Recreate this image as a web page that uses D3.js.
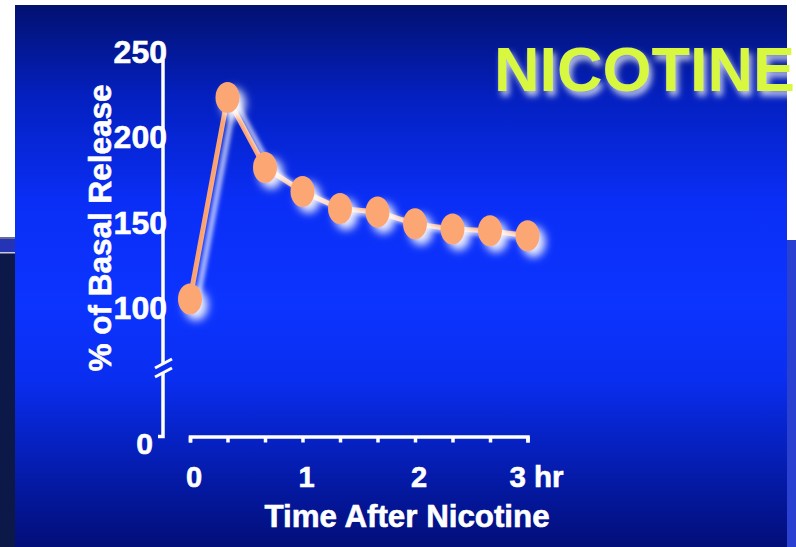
<!DOCTYPE html>
<html>
<head>
<meta charset="utf-8">
<script src="https://cdn.jsdelivr.net/npm/d3@7"></script>
<style>
  body { margin: 0; background: #fff; }
  text { font-family: "Liberation Sans", Arial, sans-serif; font-weight: bold; }
</style>
</head>
<body>
<div id="chart"></div>
<script>
// Data (time in minutes, % of basal release)
var times = [0, 20, 40, 60, 80, 100, 120, 140, 160, 180];
var release = [105, 223, 182, 168, 158, 156, 149, 146, 145, 142];
var yTicks = [100, 150, 200, 250];
var xTickLabels = [{t: 0, label: "0"}, {t: 60, label: "1"}, {t: 120, label: "2"}];
var lastLabel = {t: 180, label: "3 hr"};

var svgWidth = 796;
var svgHeight = 547;

var svg = d3.select("#chart")
    .append("svg")
    .attr("width", svgWidth)
    .attr("height", svgHeight);

var defs = svg.append("defs");

// vertical blue gradient of the slide
var grad = defs.append("linearGradient")
    .attr("id", "bg")
    .attr("x1", 0).attr("y1", 0).attr("x2", 0).attr("y2", 1);
[[0, "#021170"], [0.17, "#0420c0"], [0.36, "#0a2ef5"], [0.55, "#0c34ff"],
 [0.69, "#0a2ef0"], [0.8, "#0622c4"], [1, "#020e78"]].forEach(function(s) {
    grad.append("stop").attr("offset", s[0]).attr("stop-color", s[1]);
});

// white soft glow under (or over) an element
function glow(id, dx, dy, blur, op, onTop) {
    var f = defs.append("filter").attr("id", id)
        .attr("x", "-20%").attr("y", "-20%").attr("width", "140%").attr("height", "140%");
    f.append("feGaussianBlur").attr("in", "SourceAlpha").attr("stdDeviation", blur).attr("result", "b");
    f.append("feOffset").attr("in", "b").attr("dx", dx).attr("dy", dy).attr("result", "o");
    f.append("feFlood").attr("flood-color", "#fff").attr("flood-opacity", op);
    f.append("feComposite").attr("in2", "o").attr("operator", "in").attr("result", "s");
    var m = f.append("feMerge");
    if (onTop) {
        m.append("feMergeNode").attr("in", "SourceGraphic");
        m.append("feMergeNode").attr("in", "s");
    } else {
        m.append("feMergeNode").attr("in", "s");
        m.append("feMergeNode").attr("in", "SourceGraphic");
    }
}
glow("glowTitle", 3, 5, 3, 0.75, false);
glow("glowDot", 6, 6, 4, 0.9, false);
glow("glowLine", 7, 3, 2, 0.75, true);

// slide background pieces
svg.append("rect").attr("x", 0).attr("y", 253).attr("width", 16).attr("height", 294).attr("fill", "#0c1848");
svg.append("rect").attr("x", 0).attr("y", 239).attr("width", 16).attr("height", 13).attr("fill", "#2434b4");
svg.append("rect").attr("x", 0).attr("y", 237).attr("width", 16).attr("height", 2).attr("fill", "#6a6a9a");
svg.append("rect").attr("x", 0).attr("y", 252).attr("width", 16).attr("height", 1.5).attr("fill", "#c8c8d8");
svg.append("rect").attr("x", 786).attr("y", 240).attr("width", 10).attr("height", 307).attr("fill", "#2a40d0");
svg.append("rect").attr("x", 15).attr("y", 5).attr("width", 772).attr("height", 542).attr("fill", "url(#bg)");

// scales
var xScale = d3.scaleLinear().domain([0, 180]).range([190, 527.5]);
var yScale = d3.scaleLinear().domain([100, 250]).range([307.5, 51.5]);
var yZero = 443;

var axisColor = "#fff";

// y axis with a break
var yAxisX = 163;
svg.append("line").attr("x1", yAxisX).attr("x2", yAxisX).attr("y1", 60).attr("y2", 364)
    .attr("stroke", axisColor).attr("stroke-width", 3.5);
svg.append("path").attr("d", `M${yAxisX - 5},436.5H${yAxisX}V373`)
    .attr("fill", "none").attr("stroke", axisColor).attr("stroke-width", 3.5);
[0, 9].forEach(function(off) {
    svg.append("line")
        .attr("x1", 155).attr("y1", 368 + off)
        .attr("x2", 172).attr("y2", 359 + off)
        .attr("stroke", axisColor).attr("stroke-width", 3);
});

svg.selectAll(".ytick")
    .data(yTicks)
    .enter()
    .append("text")
    .attr("class", "ytick")
    .attr("x", 167)
    .attr("y", d => yScale(d))
    .attr("dy", "0.36em")
    .attr("text-anchor", "end")
    .attr("font-size", "32px")
    .attr("fill", "#fff")
    .attr("stroke", "#fff").attr("stroke-width", 0.6)
    .text(d => d);

svg.append("text")
    .attr("x", 153).attr("y", yZero).attr("dy", "0.36em")
    .attr("text-anchor", "end")
    .attr("font-size", "30px")
    .attr("fill", "#fff")
    .attr("stroke", "#fff").attr("stroke-width", 0.6)
    .text("0");

// x axis
var bottomAxis = d3.axisBottom(xScale)
    .tickValues(times)
    .tickSize(6)
    .tickSizeOuter(6)
    .tickFormat("");

var xAxisG = svg.append("g")
    .attr("transform", "translate(0, 436.5)")
    .call(bottomAxis);
xAxisG.selectAll("path, line").attr("stroke", axisColor).attr("stroke-width", 3.5);

svg.selectAll(".xtick")
    .data(xTickLabels)
    .enter()
    .append("text")
    .attr("class", "xtick")
    .attr("x", d => xScale(d.t) + 4)
    .attr("y", 487)
    .attr("text-anchor", "middle")
    .attr("font-size", "29px")
    .attr("fill", "#fff")
    .attr("stroke", "#fff").attr("stroke-width", 0.6)
    .text(d => d.label);

svg.append("text")
    .attr("x", xScale(lastLabel.t) - 18)
    .attr("y", 487)
    .attr("font-size", "29.5px")
    .attr("fill", "#fff")
    .attr("stroke", "#fff").attr("stroke-width", 0.6)
    .text(lastLabel.label);

// axis titles
svg.append("text")
    .attr("transform", "translate(111, 228) rotate(-90)")
    .attr("text-anchor", "middle")
    .attr("font-size", "31.5px")
    .attr("fill", "#fff")
    .attr("stroke", "#fff").attr("stroke-width", 0.6)
    .text("% of Basal Release");

svg.append("text")
    .attr("x", 407).attr("y", 527)
    .attr("text-anchor", "middle")
    .attr("font-size", "31.3px")
    .attr("fill", "#fff")
    .attr("stroke", "#fff").attr("stroke-width", 0.6)
    .text("Time After Nicotine");

// title
svg.append("text")
    .attr("x", 494).attr("y", 91)
    .attr("font-size", "63px")
    .attr("fill", "#d8f840")
    .attr("filter", "url(#glowTitle)")
    .text("NICOTINE");

// series
var seriesData = times.map((t, i) => ({t: t, v: release[i]}));
var lineGen = d3.line().x(d => xScale(d.t)).y(d => yScale(d.v));

svg.append("path")
    .datum(seriesData)
    .attr("d", lineGen)
    .attr("fill", "none")
    .attr("stroke", "#fba36f")
    .attr("stroke-width", 5)
    .attr("filter", "url(#glowLine)");

svg.append("g")
    .attr("filter", "url(#glowDot)")
    .selectAll("ellipse")
    .data(seriesData)
    .enter()
    .append("ellipse")
    .attr("cx", d => xScale(d.t))
    .attr("cy", d => yScale(d.v))
    .attr("rx", 12)
    .attr("ry", 15.5)
    .attr("fill", "#fba673");
</script>
</body>
</html>
